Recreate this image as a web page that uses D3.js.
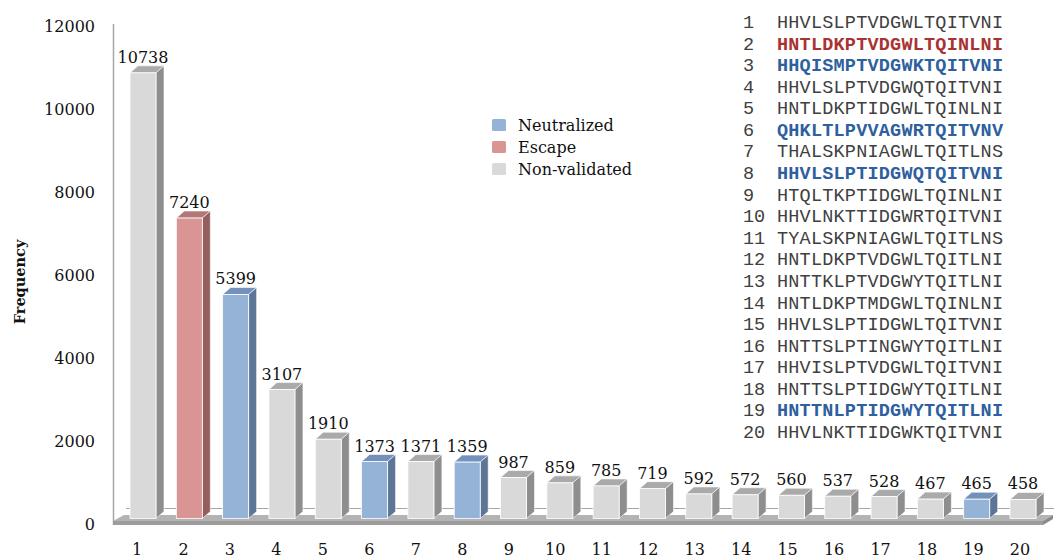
<!DOCTYPE html>
<html>
<head>
<meta charset="utf-8">
<script src="https://cdn.jsdelivr.net/npm/d3@7"></script>
<style>
  body { margin: 0; background: #fff; }
  svg { display: block; }
</style>
</head>
<body>
<script>

// data
var categories = ["1","2","3","4","5","6","7","8","9","10","11","12","13","14","15","16","17","18","19","20"];
var frequency = [10738, 7240, 5399, 3107, 1910, 1373, 1371, 1359, 987, 859, 785, 719, 592, 572, 560, 537, 528, 467, 465, 458];
var validation = ["non","escape","neut","non","non","neut","non","neut","non","non","non","non","non","non","non","non","non","non","neut","non"];
var sequences = [
    "HHVLSLPTVDGWLTQITVNI", "HNTLDKPTVDGWLTQINLNI", "HHQISMPTVDGWKTQITVNI", "HHVLSLPTVDGWQTQITVNI",
    "HNTLDKPTIDGWLTQINLNI", "QHKLTLPVVAGWRTQITVNV", "THALSKPNIAGWLTQITLNS", "HHVLSLPTIDGWQTQITVNI",
    "HTQLTKPTIDGWLTQINLNI", "HHVLNKTTIDGWRTQITVNI", "TYALSKPNIAGWLTQITLNS", "HNTLDKPTVDGWLTQITLNI",
    "HNTTKLPTVDGWYTQITLNI", "HNTLDKPTMDGWLTQINLNI", "HHVLSLPTIDGWLTQITVNI", "HNTTSLPTINGWYTQITLNI",
    "HHVISLPTVDGWLTQITVNI", "HNTTSLPTIDGWYTQITLNI", "HNTTNLPTIDGWYTQITLNI", "HHVLNKTTIDGWKTQITVNI"
];
var yTicks = [0, 2000, 4000, 6000, 8000, 10000, 12000];
var legendKeys = ["neut", "escape", "non"];
var legendLabels = ["Neutralized", "Escape", "Non-validated"];

var palette = {
    neut:   { front: "#95b3d7", top: "#7391ba", side: "#5d7597", text: "#2e5f9e" },
    escape: { front: "#d99594", top: "#b27777", side: "#955e5e", text: "#a93333" },
    non:    { front: "#d9d9d9", top: "#aaaaaa", side: "#8e8e8e", text: "#404040" }
};

var W = 1054, H = 558;
var serif = "'DejaVu Serif', serif";

var svg = d3.select("body").append("svg")
    .attr("width", W)
    .attr("height", H);

var y = d3.scaleLinear().domain([0, 12000]).range([524, 26]);
var x = d3.scalePoint().domain(categories).range([143, 1023]);
var xl = d3.scalePoint().domain(categories).range([137, 1020]);

var barW = 26, dx = 8, dy = 7, lift = 5.5;

// back line and floor
svg.append("line")
    .attr("x1", 126).attr("x2", W)
    .attr("y1", 508.5).attr("y2", 508.5)
    .attr("stroke", "#a6a6a6").attr("stroke-width", 1.2);

svg.append("line")
    .attr("x1", 113.5).attr("x2", 113.5)
    .attr("y1", 24).attr("y2", 525)
    .attr("stroke", "#a6a6a6").attr("stroke-width", 1.5);

svg.append("polygon")
    .attr("points", [[113, 521], [124, 515], [W - 1, 515], [1043, 521]].join(" "))
    .attr("fill", "#b3b3b3");

svg.append("polygon")
    .attr("points", [[113, 521], [1043, 521], [1043, 525], [113, 525]].join(" "))
    .attr("fill", "#9c9c9c");

svg.append("polygon")
    .attr("points", [[1043, 521], [W - 1, 515], [W - 1, 519], [1043, 525]].join(" "))
    .attr("fill", "#8a8a8a");

// y tick labels
svg.append("g")
    .selectAll("text")
    .data(yTicks)
    .join("text")
        .attr("x", 95)
        .attr("y", function (d) { return y(d) + 6; })
        .attr("text-anchor", "end")
        .style("font-family", serif)
        .style("font-size", "16px")
        .style("fill", "#111")
        .text(function (d) { return d; });

svg.append("text")
    .attr("transform", "translate(25,282) rotate(-90)")
    .attr("text-anchor", "middle")
    .style("font-family", serif)
    .style("font-size", "14.5px")
    .style("font-weight", "bold")
    .style("fill", "#111")
    .text("Frequency");

// bars
var bars = svg.append("g")
    .selectAll("g")
    .data(frequency)
    .join("g");

function barTop(i) { return y(frequency[i]) - lift; }
var base = y(0) - lift;

bars.append("polygon")
    .attr("points", function (d, i) {
        var l = x(categories[i]) - barW / 2, r = l + barW, t = barTop(i);
        return [[l, t], [l + dx, t - dy], [r + dx, t - dy], [r, t]].join(" ");
    })
    .attr("fill", function (d, i) { return palette[validation[i]].top; })
    .attr("stroke", "#fff").attr("stroke-width", 0.6);

bars.append("polygon")
    .attr("points", function (d, i) {
        var r = x(categories[i]) + barW / 2, t = barTop(i);
        return [[r, t], [r + dx, t - dy], [r + dx, base - dy], [r, base]].join(" ");
    })
    .attr("fill", function (d, i) { return palette[validation[i]].side; })
    .attr("stroke", "#fff").attr("stroke-width", 0.6);

bars.append("rect")
    .attr("x", function (d, i) { return x(categories[i]) - barW / 2; })
    .attr("y", function (d, i) { return barTop(i); })
    .attr("width", barW)
    .attr("height", function (d, i) { return base - barTop(i); })
    .attr("fill", function (d, i) { return palette[validation[i]].front; })
    .attr("stroke", "#fff").attr("stroke-width", 0.8);

bars.append("text")
    .attr("x", function (d, i) { return x(categories[i]); })
    .attr("y", function (d, i) { return barTop(i) - 10; })
    .attr("text-anchor", "middle")
    .style("font-family", serif)
    .style("font-size", "16px")
    .style("fill", "#111")
    .text(function (d) { return d; });

// x labels
svg.append("g")
    .selectAll("text")
    .data(categories)
    .join("text")
        .attr("x", function (d) { return xl(d); })
        .attr("y", 555)
        .attr("text-anchor", "middle")
        .style("font-family", serif)
        .style("font-size", "16px")
        .style("fill", "#111")
        .text(function (d) { return d; });

// legend
var legend = svg.append("g")
    .selectAll("g")
    .data(legendKeys)
    .join("g")
        .attr("transform", function (d, i) { return "translate(492," + (119 + i * 22) + ")"; });

legend.append("rect")
    .attr("width", 14).attr("height", 12)
    .attr("rx", 1.5)
    .attr("fill", function (d) { return palette[d].front; });

legend.append("text")
    .attr("x", 26).attr("y", 12)
    .style("font-family", serif)
    .style("font-size", "16px")
    .style("fill", "#111")
    .text(function (d, i) { return legendLabels[i]; });

// sequence list
var row = d3.scalePoint().domain(categories).range([28, 438]);
var mono = "'Liberation Mono', 'Courier New', monospace";

var seq = svg.append("g")
    .selectAll("g")
    .data(sequences)
    .join("g")
        .attr("transform", function (d, i) { return "translate(0," + row(categories[i]) + ")"; });

seq.append("text")
    .attr("x", 743)
    .style("font-family", mono)
    .style("font-size", "18.5px")
    .style("fill", "#404040")
    .text(function (d, i) { return categories[i]; });

seq.append("text")
    .attr("x", 777)
    .attr("textLength", 226)
    .style("font-family", mono)
    .style("font-size", "18.5px")
    .style("font-weight", function (d, i) { return validation[i] === "non" ? "normal" : "bold"; })
    .style("fill", function (d, i) { return palette[validation[i]].text; })
    .text(function (d) { return d; });

</script>
</body>
</html>
